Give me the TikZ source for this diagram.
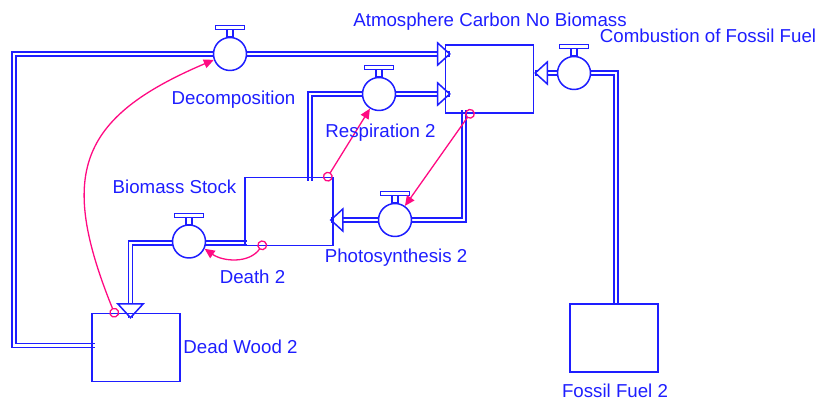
\documentclass[tikz,border=0pt]{standalone}
\usepackage{fontspec}
\usepackage{tikz}
\usetikzlibrary{arrows.meta,calc,backgrounds}
\newfontfamily\arialfont{Liberation Sans}
\definecolor{simblue}{RGB}{30,30,255}
\definecolor{linkpink}{RGB}{255,10,130}
\tikzset{
  stock/.style={draw=simblue, line width=1.6pt, minimum width=88pt, minimum height=68pt, inner sep=0pt},
  valve/.style={circle, draw=simblue, fill=white, line width=1.5pt, minimum size=33pt, inner sep=0pt},
  valvetop/.style={draw=simblue, fill=white, line width=1.4pt},
  pipe/.style={draw=simblue, double=white, double distance=2.4pt, line width=1.7pt},
  link/.style={draw=linkpink, line width=1.3pt, {Circle[open,length=10pt,width=10pt]}-{Triangle[length=10pt,width=9pt]}, shorten <=-5pt},
  lbl/.style={text=simblue, font=\arialfont\fontsize{18.7}{20}\selectfont, inner sep=0pt, anchor=base},
  flowtip/.pic={\draw[draw=simblue, fill=white, line width=1.5pt] (-12,-11) -- (0,0) -- (-12,11) -- cycle;}
}

\begin{document}
\begin{tikzpicture}[x=1pt,y=1pt]
\useasboundingbox (0,0) rectangle (822,403);

% stocks
\node[stock] (atm) at (489.5,324) {};
\node[stock] (bio) at (289,191.5) {};
\node[stock] (dead) at (136,55.5) {};
\node[stock] (fossil) at (614,65) {};

% valves
\node[valve] (dec) at (230,349) {};
\node[valve] (resp) at (379,309) {};
\node[valve] (comb) at (574,330) {};
\node[valve] (photo) at (395,183) {};
\node[valve] (death) at (189,161.5) {};
\foreach \v in {dec,resp,comb,photo,death}
  \draw[valvetop] ([xshift=-3pt]\v.north) rectangle ([xshift=3pt,yshift=7pt]\v.north)
    ([xshift=-14.5pt,yshift=7pt]\v.north) rectangle ([xshift=14.5pt,yshift=11pt]\v.north);

% pipe ends
\coordinate (deadOut) at ($(dead.west)+(4,2)$);
\coordinate (cornerA) at (14,349);
\coordinate (decIn) at ($(atm.west |- dec)+(5,0)$);
\coordinate (bioUp) at ($(bio.north)+(21,-4)$);
\coordinate (respIn) at ($(atm.west |- resp)+(5,0)$);
\coordinate (fossilUp) at ($(fossil.north)+(2,0)$);
\coordinate (combIn) at ($(atm.east |- comb)+(1,0)$);
\coordinate (atmDown) at ($(atm.south)+(-25.5,4)$);
\coordinate (photoIn) at ($(bio.east |- photo)+(-3,0)$);
\coordinate (bioOut) at ($(bio.south west)+(3,3.5)$);
\coordinate (deathIn) at ($(dead.north)+(-5.5,-5)$);

\begin{scope}[on background layer]
\draw[pipe] (deadOut) -| (cornerA) -- (decIn);
\draw[pipe] (bioUp) |- (respIn);
\draw[pipe] (fossilUp) |- (combIn);
\draw[pipe] (atmDown) |- (photoIn);
\draw[pipe] (bioOut) -| (deathIn);
\pic at (decIn) {flowtip};
\pic at (respIn) {flowtip};
\pic[rotate=180] at (combIn) {flowtip};
\pic[rotate=180] at (photoIn) {flowtip};
\pic[rotate=-90,scale=1.15] at (deathIn) {flowtip};
\end{scope}

% connectors
\coordinate (lnkDead) at ($(dead.north west)+(23,0)$);
\coordinate (lnkBioA) at ($(bio.north east)+(-6,0)$);
\coordinate (lnkAtm) at ($(atm.south)+(-19.5,0)$);
\coordinate (lnkBioB) at ($(bio.south west)+(18,1)$);
\draw[link] (lnkDead) to[out=112,in=203,looseness=1.4] (dec.200);
\draw[link] (lnkBioA) -- (resp);
\draw[link] (lnkAtm) -- (photo);
\draw[link] (lnkBioB) to[out=235,in=-35] (death.335);

% labels
\node[lbl] (atmLbl) at (490,376) {Atmosphere Carbon No Biomass};
\node[lbl] (combLbl) at (708,360) {Combustion of Fossil Fuel};
\node[lbl] (decLbl) at (233.5,298) {Decomposition};
\node[lbl] (respLbl) at (380.5,265) {Respiration 2};
\node[lbl] (bioLbl) at (174.5,209) {Biomass Stock};
\node[lbl] (photoLbl) at (396,140) {Photosynthesis 2};
\node[lbl] (deathLbl) at (252.5,119) {Death 2};
\node[lbl] (deadLbl) at (240.5,49) {Dead Wood 2};
\node[lbl] (fossilLbl) at (615,5) {Fossil Fuel 2};
\end{tikzpicture}
\end{document}
